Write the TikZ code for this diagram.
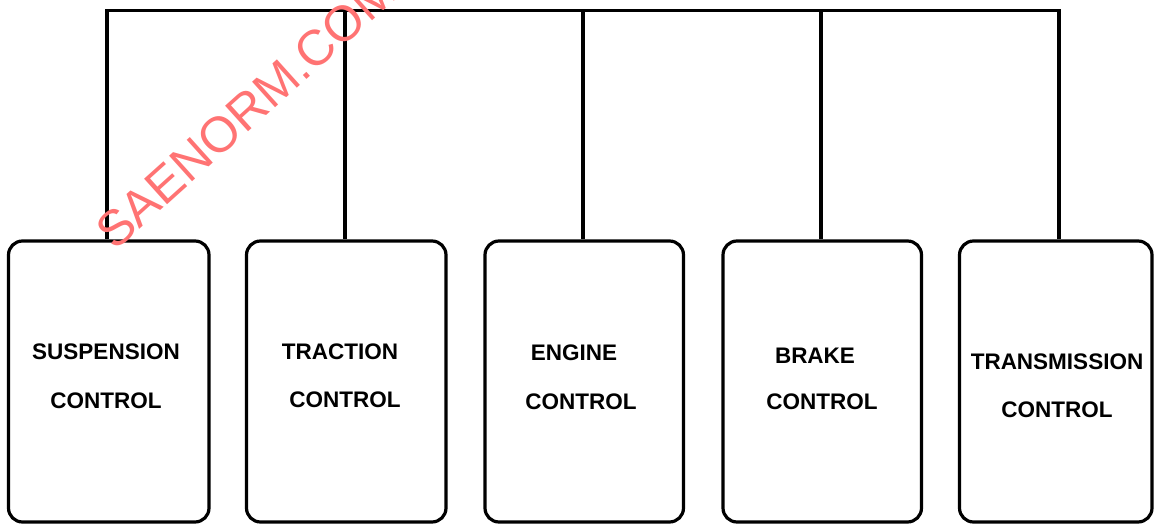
\documentclass[tikz,border=0pt]{standalone}
\usepackage{fontspec}
\setmainfont{Liberation Sans}
\begin{document}
\begin{tikzpicture}[x=1pt,y=-1pt,
  unit/.style={draw=black,line width=3.2pt,rounded corners=14pt,rectangle,minimum height=281pt,inner sep=0pt},
  lbl/.style={font=\bfseries\fontsize{22.5}{22.5}\selectfont,inner sep=0pt,anchor=center},
  bus/.style={draw=black,line width=3.2pt},
  wm/.style={font=\fontsize{50}{50}\selectfont,text={rgb,255:red,255;green,115;blue,115},inner sep=0pt,anchor=base west,rotate=42}]
\useasboundingbox (0,0) rectangle (1154,525);
\node[unit,minimum width=200.5pt] (b1) at (108.75,381.5) {};
\node[unit,minimum width=199.5pt] (b2) at (346.25,381.5) {};
\node[unit,minimum width=198.5pt] (b3) at (584.25,381.5) {};
\node[unit,minimum width=198.5pt] (b4) at (822.25,381.5) {};
\node[unit,minimum width=192.5pt] (b5) at (1055.75,381.5) {};
\coordinate (t1) at (107,10.5);
\coordinate (t2) at (345,10.5);
\coordinate (t3) at (583,10.5);
\coordinate (t4) at (821,10.5);
\coordinate (t5) at (1059,10.5);
\draw[bus,line join=miter] (t1 |- b1.north) -- (t1) -- (t5) -- (t5 |- b5.north);
\draw[bus] (t2) -- (t2 |- b2.north);
\draw[bus] (t3) -- (t3 |- b3.north);
\draw[bus] (t4) -- (t4 |- b4.north);
\node[lbl] (l1a) at (106,352) {SUSPENSION};
\node[lbl] (l1b) at (106,401) {CONTROL};
\node[lbl] (l2a) at (340,352) {TRACTION};
\node[lbl] (l2b) at (345,400) {CONTROL};
\node[lbl] (l3a) at (574,353) {ENGINE};
\node[lbl] (l3b) at (581,402) {CONTROL};
\node[lbl] (l4a) at (815,356) {BRAKE};
\node[lbl] (l4b) at (822,402) {CONTROL};
\node[lbl] (l5a) at (1057,362) {TRANSMISSION};
\node[lbl] (l5b) at (1057,410) {CONTROL};
\node[wm] (wm) at (115,252) {SAENORM.COM};
\end{tikzpicture}
\end{document}
